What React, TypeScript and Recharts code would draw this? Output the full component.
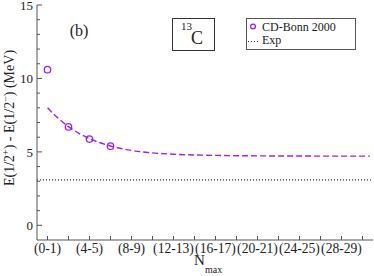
import {
  ComposedChart,
  Customized,
  Line,
  ReferenceLine,
  Scatter,
  XAxis,
  YAxis,
} from 'recharts'

// CD-Bonn 2000 points, Nmax lower value of each (Nmax-Nmax+1) pair
const cdBonnN = [0, 2, 4, 6]
const cdBonnE = [10.6, 6.7, 5.87, 5.39]

// dashed extrapolation curve
const fitN = [0, 1, 2, 3, 4, 5, 6, 7, 8, 9, 10, 12, 14, 16, 18, 20, 22, 24, 26, 28, 30.7]
const fitE = [8.0, 7.3, 6.72, 6.26, 5.9, 5.62, 5.4, 5.23, 5.1, 5.0, 4.93, 4.84, 4.79, 4.76, 4.74, 4.73, 4.72, 4.72, 4.71, 4.71, 4.71]

const expE = 3.09

const xTicks = [0, 2, 4, 6, 8, 10, 12, 14, 16, 18, 20, 22, 24, 26, 28, 30]
const xLabelN = [0, 4, 8, 12, 16, 20, 24, 28]
const xLabels = ['(0-1)', '(4-5)', '(8-9)', '(12-13)', '(16-17)', '(20-21)', '(24-25)', '(28-29)']
const yTicks = [0, 1, 2, 3, 4, 5, 6, 7, 8, 9, 10, 11, 12, 13, 14, 15]
const yLabels = [0, 5, 10, 15]

const purple = '#a020f0'
const frame = '#555'
const ink = '#222'
const serif = 'Liberation Serif, Times New Roman, serif'

const pointData = cdBonnN.map((n, i) => ({ n, e: cdBonnE[i] }))
const fitData = fitN.map((n, i) => ({ n, e: fitE[i] }))

function BottomTick({ x, y, payload }: any) {
  const idx = xLabelN.indexOf(payload.value)
  return (
    <g>
      <line x1={x} y1={y} x2={x} y2={y - 4} stroke={frame} />
      {idx >= 0 && (
        <text x={x} y={y + 12.5} textAnchor="middle" fontSize={13.6} fontFamily={serif} fill={ink}>
          {xLabels[idx]}
        </text>
      )}
    </g>
  )
}

function TopTick({ x, y }: any) {
  return <line x1={x} y1={y} x2={x} y2={y + 4} stroke={frame} />
}

function LeftTick({ x, y, payload }: any) {
  const major = yLabels.includes(payload.value)
  return (
    <g>
      <line x1={x} y1={y} x2={x + (major ? 5 : 3)} y2={y} stroke={frame} />
      {major && (
        <text x={x - 4} y={y + 5} textAnchor="end" fontSize={13} fontFamily={serif} fill={ink}>
          {payload.value}
        </text>
      )}
    </g>
  )
}

function RightTick({ x, y, payload }: any) {
  const major = yLabels.includes(payload.value)
  return <line x1={x} y1={y} x2={x - (major ? 5 : 3)} y2={y} stroke={frame} />
}

function Decorations() {
  return (
    <g fontFamily={serif} fill={ink}>
      <text x={79} y={36} textAnchor="middle" fontSize={16}>(b)</text>

      <rect x={172.5} y={18.5} width={42} height={32} fill="none" stroke="#333" />
      <text x={181} y={30} fontSize={11}>13</text>
      <text x={191} y={44} fontSize={18}>C</text>

      <rect x={246.5} y={18.5} width={109} height={31} fill="#fff" stroke="#555" />
      <circle cx={253} cy={26.5} r={2.4} fill="none" stroke={purple} strokeWidth={1.3} />
      <text x={262} y={31} fontSize={12}>CD-Bonn 2000</text>
      <line x1={248} y1={41.5} x2={260} y2={41.5} stroke="#333" strokeDasharray="1 2" />
      <text x={262} y={44} fontSize={12}>Exp</text>

      <text transform="translate(14,118) rotate(-90)" textAnchor="middle" fontSize={14}>
        E(1/2<tspan dy={-5} fontSize={10}>+</tspan>
        <tspan dy={5}>) - E(1/2</tspan>
        <tspan dy={-5} fontSize={10}>−</tspan>
        <tspan dy={5}>) (MeV)</tspan>
      </text>

      <text x={194} y={265} fontSize={15}>N</text>
      <text x={205} y={273} fontSize={10}>max</text>
    </g>
  )
}

export default function App() {
  return (
    <div style={{ position: 'absolute', left: 0, top: 0, background: '#fff' }}>
      <ComposedChart width={374} height={276} margin={{ top: 5, right: 1, left: 0, bottom: 0 }}>
        <XAxis
          dataKey="n"
          type="number"
          domain={[-1, 31]}
          ticks={xTicks}
          interval={0}
          height={36}
          tickSize={0}
          tickMargin={0}
          tick={<BottomTick />}
          axisLine={{ stroke: frame }}
          allowDataOverflow
        />
        <XAxis
          xAxisId="top"
          orientation="top"
          type="number"
          domain={[-1, 31]}
          ticks={xTicks}
          interval={0}
          height={0}
          tickSize={0}
          tickMargin={0}
          tick={<TopTick />}
          axisLine={{ stroke: frame }}
          allowDataOverflow
        />
        <YAxis
          type="number"
          domain={[-1, 15]}
          ticks={yTicks}
          interval={0}
          width={37}
          tickSize={0}
          tickMargin={0}
          tick={<LeftTick />}
          axisLine={{ stroke: frame }}
          allowDataOverflow
        />
        <YAxis
          yAxisId="right"
          orientation="right"
          type="number"
          domain={[-1, 15]}
          ticks={yTicks}
          interval={0}
          width={0}
          tickSize={0}
          tickMargin={0}
          tick={<RightTick />}
          axisLine={{ stroke: frame }}
          allowDataOverflow
        />
        <ReferenceLine y={expE} stroke="#333" strokeWidth={1.2} strokeDasharray="1 2" />
        <Line
          data={fitData}
          dataKey="e"
          type="monotone"
          stroke={purple}
          strokeWidth={1.4}
          strokeDasharray="6 3"
          dot={false}
          activeDot={false}
          isAnimationActive={false}
        />
        <Scatter
          data={pointData}
          dataKey="e"
          isAnimationActive={false}
          shape={(p: any) => (
            <circle cx={p.cx} cy={p.cy} r={3.2} fill="none" stroke={purple} strokeWidth={1.3} />
          )}
        />
        <Customized component={Decorations} />
      </ComposedChart>
    </div>
  )
}
